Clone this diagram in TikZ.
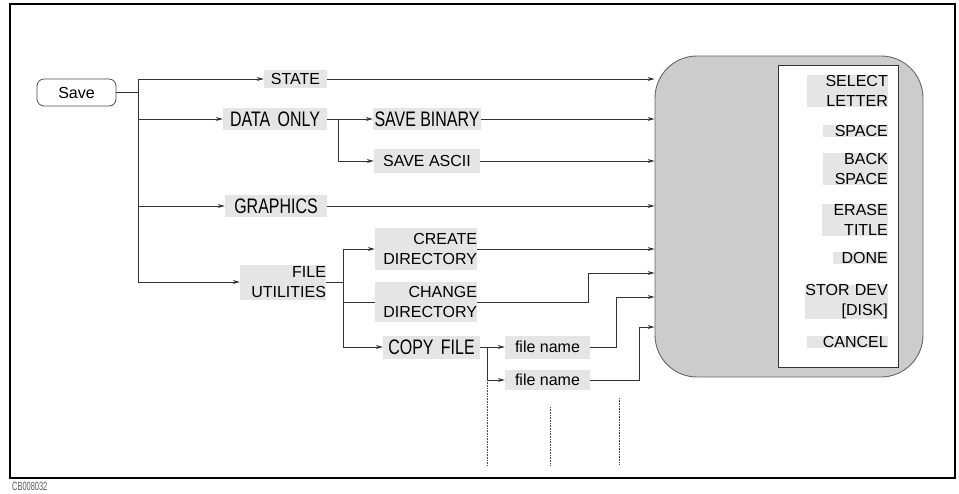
\documentclass[tikz,border=0pt]{standalone}
\usepackage{fontspec}
\setmainfont{Liberation Sans}
\newfontfamily\condfont[FakeStretch=0.76]{Liberation Sans}
\newfontfamily\codefont[FakeStretch=0.62]{Liberation Sans}
\usetikzlibrary{arrows.meta,calc}
\begin{document}
\begin{tikzpicture}[x=1pt,y=-1pt,
  conn/.style={draw=black!80, line width=0.8pt},
  arr/.style={conn, -{Stealth[length=7pt,width=4pt]}},
  dots/.style={draw=black!70, line width=0.6pt, densely dotted},
  lbl/.style={fill=black!10, inner sep=0pt, font=\fontsize{16}{20}\selectfont, align=right},
  blbl/.style={lbl, font=\condfont\fontsize{21}{24}\selectfont},
  menuitem/.style={lbl, anchor=east, text width=#1}]
\useasboundingbox (0,0) rectangle (959,493);
\draw[line width=1.6pt] (10,4) rectangle (955,478);
\node[anchor=base west, inner sep=0pt, text depth=0pt, text=black!65, font=\codefont\fontsize{12}{13}\selectfont] (code) at (12,490) {CB008032};

% panel
\node[draw=black!60, line width=0.9pt, fill=black!20, rounded corners=42pt, minimum width=268pt, minimum height=321pt] (panel) at (789,216.5) {};
\node[draw=black!80, line width=0.8pt, fill=white, minimum width=120pt, minimum height=302pt] (menu) at (838,216) {};
\node[menuitem=81pt] (sel) at (888,91) {SELECT\\LETTER};
\node[menuitem=65pt] (spc) at (888,131) {SPACE};
\node[menuitem=65pt] (bksp) at (888,169) {BACK\\SPACE};
\node[menuitem=66pt] (erase) at (888,220) {ERASE\\TITLE};
\node[menuitem=55pt] (done) at (888,258) {DONE};
\node[menuitem=83pt] (stor) at (888,302) {STOR DEV\\{[DISK]}};
\node[menuitem=81pt] (cancel) at (888,342) {CANCEL};

% left nodes
\node[draw=black!70, line width=0.8pt, rounded corners=7pt, minimum width=79pt, minimum height=27pt, inner sep=0pt, font=\fontsize{16}{20}\selectfont] (save) at (76.5,92.5) {Save};
\node[lbl, minimum width=63pt, minimum height=18pt] (state) at (295.5,79) {STATE};
\node[blbl, minimum width=104pt, minimum height=22pt] (dataonly) at (275,119) {DATA\hspace{3pt} ONLY};
\node[blbl, minimum width=108pt, minimum height=22pt] (savebin) at (427,119) {SAVE BINARY};
\node[lbl, minimum width=106pt, minimum height=24pt] (saveascii) at (427,161) {SAVE ASCII};
\node[blbl, minimum width=102pt, minimum height=22pt] (graphics) at (276,206) {GRAPHICS};
\node[lbl, text width=86pt, minimum height=35pt] (fileutil) at (283,282) {FILE\\UTILITIES};
\node[lbl, text width=102pt, minimum height=42pt] (createdir) at (426,249) {CREATE\\DIRECTORY};
\node[lbl, text width=102pt, minimum height=40pt] (changedir) at (426,302) {CHANGE\\DIRECTORY};
\node[blbl, minimum width=97pt, minimum height=23pt] (copyfile) at (431.5,347) {COPY\hspace{3pt} FILE};
\node[lbl, minimum width=85pt, minimum height=23pt, align=center] (fn1) at (547.5,347) {file name};
\node[lbl, minimum width=85pt, minimum height=20pt, align=center] (fn2) at (547.5,380) {file name};

% trunk
\coordinate (t0) at (138,92.5);
\coordinate (ttop) at (138,79);
\coordinate (tbot) at (138,282);
\draw[conn] (save.east) -- (t0);
\draw[conn] (ttop) -- (tbot);
\draw[arr] (ttop) -- (state.west);
\draw[arr] (dataonly.west -| t0) -- (dataonly.west);
\draw[arr] (graphics.west -| t0) -- (graphics.west);
\draw[arr] (fileutil.west -| t0) -- (fileutil.west);

% data only branch
\coordinate (d0) at (338,119);
\draw[conn] (dataonly.east) -- (d0);
\draw[arr] (d0) -- (savebin.west);
\draw[arr] (d0) |- (saveascii.west);

% file utilities branch
\coordinate (f0) at (343,282);
\draw[conn] (fileutil.east) -- (f0);
\draw[conn] (f0) -- (f0 |- createdir.west);
\draw[conn] (f0) -- (f0 |- copyfile.west);
\draw[arr] (f0 |- createdir.west) -- (createdir.west);
\draw[conn] (f0 |- changedir.west) -- (changedir.west);
\draw[arr] (f0 |- copyfile.west) -- (copyfile.west);

% copy file branch
\coordinate (c0) at (487,347);
\coordinate (c1) at (487,465);
\draw[conn] (copyfile.east) -- (c0);
\draw[arr] (c0) -- (fn1.west);
\draw[arr] (c0) |- (fn2.west);
\draw[dots] (fn2.west -| c0) -- (c1);
\coordinate (e1a) at (550,407);
\coordinate (e1b) at (550,465);
\coordinate (e2a) at (619,398);
\coordinate (e2b) at (619,465);
\draw[dots] (e1a) -- (e1b);
\draw[dots] (e2a) -- (e2b);

% to panel
\draw[arr] (state.east) -- (state.east -| panel.west);
\draw[arr] (savebin.east) -- (savebin.east -| panel.west);
\draw[arr] (saveascii.east) -- (saveascii.east -| panel.west);
\draw[arr] (graphics.east) -- (graphics.east -| panel.west);
\draw[arr] (createdir.east) -- (createdir.east -| panel.west);
\coordinate (b1) at (588,273);
\coordinate (b2) at (616,297);
\coordinate (b3) at (639,327);
\draw[arr] (changedir.east) -| (b1) -- (b1 -| panel.west);
\draw[arr] (fn1.east) -| (b2) -- (b2 -| panel.west);
\draw[arr] (fn2.east) -| (b3) -- (b3 -| panel.west);
\end{tikzpicture}
\end{document}
